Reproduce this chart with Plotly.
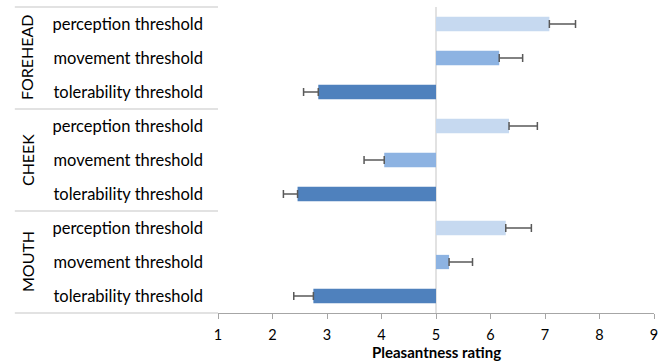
import plotly.graph_objects as go

groups = ["FOREHEAD", "CHEEK", "MOUTH"]
thresholds = ["perception threshold", "movement threshold", "tolerability threshold"]

# mean pleasantness ratings per group (FOREHEAD, CHEEK, MOUTH)
perception = [7.08, 6.34, 6.28]
movement = [6.16, 4.05, 5.24]
tolerability = [2.84, 2.46, 2.75]

# error (SEM) per group
perception_err = [0.48, 0.52, 0.47]
movement_err = [0.43, 0.37, 0.43]
tolerability_err = [0.27, 0.26, 0.36]

neutral = 5
x_ticks = [1, 2, 3, 4, 5, 6, 7, 8, 9]
x_title = "Pleasantness rating"

series = [
    (thresholds[0], perception, perception_err, "#C6D9F0"),
    (thresholds[1], movement, movement_err, "#8DB3E2"),
    (thresholds[2], tolerability, tolerability_err, "#4F81BD"),
]

keys = [f"{g}|{t}" for g in groups for t in thresholds]
labels = [t for g in groups for t in thresholds]

fig = go.Figure()
err_y, err_x, err_p, err_m = [], [], [], []
for name, vals, errs, color in series:
    ys = [f"{g}|{name}" for g in groups]
    fig.add_trace(go.Bar(
        y=ys, x=[v - neutral for v in vals], base=neutral, orientation="h",
        marker=dict(color=color, line=dict(width=0)), width=0.42,
        hoverinfo="skip", showlegend=False,
    ))
    for y, v, e in zip(ys, vals, errs):
        err_y.append(y)
        err_x.append(v)
        err_p.append(e if v >= neutral else 0)
        err_m.append(e if v < neutral else 0)

fig.add_trace(go.Scatter(
    y=err_y, x=err_x, mode="markers", marker=dict(opacity=0, size=1),
    error_x=dict(type="data", array=err_p, arrayminus=err_m, symmetric=False,
                 color="#595959", thickness=1.5, width=4),
    hoverinfo="skip", showlegend=False,
))

font_family = "Lato, 'Open Sans', sans-serif"

fig.update_layout(
    width=672, height=361,
    margin=dict(l=218, r=18, t=7, b=48),
    paper_bgcolor="white", plot_bgcolor="white",
    barmode="overlay",
    font=dict(family=font_family, size=15, color="#000000"),
    xaxis=dict(
        range=[1, 9], tickvals=x_ticks, ticks="outside", ticklen=5,
        tickcolor="#A6A6A6", showline=True, linecolor="#A6A6A6", linewidth=1.3,
        showgrid=False, zeroline=False, automargin=False,
        ticklabelstandoff=3,
        tickfont=dict(size=14.5, color="#000000"),
    ),
    yaxis=dict(
        type="category", categoryorder="array", categoryarray=keys,
        range=[len(keys) - 0.5, -0.5], tickmode="array", tickvals=keys,
        ticktext=labels, ticks="", showgrid=False, zeroline=False,
        showline=False, ticklabelstandoff=14, automargin=False,
        tickfont=dict(size=16.5, color="#000000"),
    ),
)

# x axis title
fig.add_annotation(text=f"<b>{x_title}</b>", xref="paper", yref="paper",
                   x=0.5, y=0, yshift=-39, xanchor="center", yanchor="middle",
                   showarrow=False, font=dict(size=15, color="#000000"))

# vertical line at neutral rating
fig.add_shape(type="line", xref="x", yref="paper", x0=neutral, x1=neutral,
              y0=0, y1=1, line=dict(color="#D9D9D9", width=1.5), layer="below")

# group separators
n = len(groups)
for i in range(n + 1):
    fig.add_shape(type="line", xref="paper", yref="paper", x0=-0.466, x1=0,
                  y0=i / n, y1=i / n, line=dict(color="#D9D9D9", width=1.3))

# group labels
for i, g in enumerate(groups):
    fig.add_annotation(text=g, xref="paper", yref="paper", x=-0.438,
                       y=1 - (i + 0.5) / n, textangle=-90, showarrow=False,
                       xanchor="center", yanchor="middle",
                       font=dict(size=16, color="#000000"))

fig.write_html("out.html", config={"displayModeBar": False},
               post_script="document.body.style.margin='0';document.body.style.padding='0';")
